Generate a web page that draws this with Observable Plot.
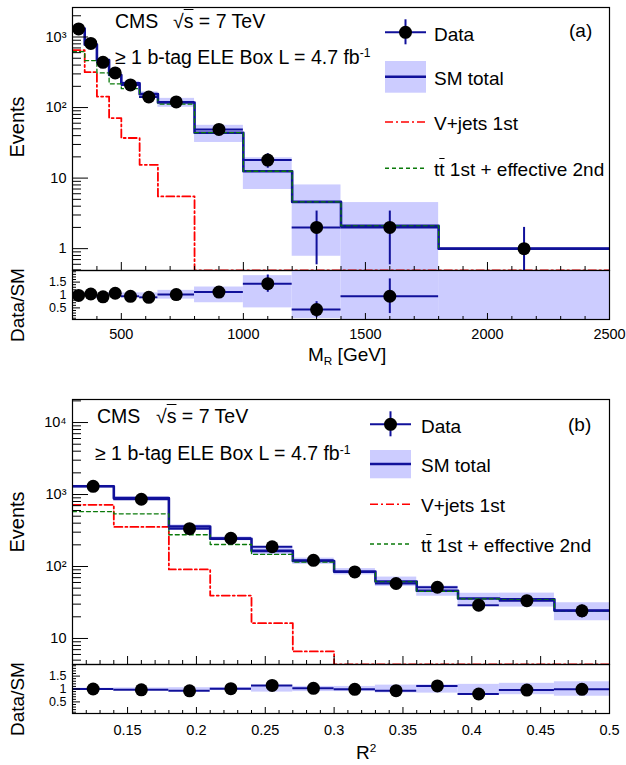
<!DOCTYPE html>
<html><head><meta charset="utf-8">
<script src="https://cdn.jsdelivr.net/npm/d3@7"></script>
<script src="https://cdn.jsdelivr.net/npm/@observablehq/plot@0.6"></script>
<style>
body{margin:0;background:#fff;font-family:"Liberation Sans",Arial,Helvetica,sans-serif;}
#wrap{position:relative;width:626px;height:765px;overflow:hidden;background:#fff;}
.p{position:absolute;left:0;}
.t{position:absolute;white-space:nowrap;line-height:1;color:#000;}
.t sup{font-size:0.62em;vertical-align:0;position:relative;top:-0.55em;}
.t sub{font-size:0.62em;vertical-align:0;position:relative;top:0.3em;}
</style></head><body><div id="wrap"></div>
<script>
// ---------------- data: panel (a), M_R ----------------
const mrEdges   = [300,350,400,450,500,575,650,800,1000,1200,1400,1800,2500];
const mrData    = [1300,810,437,310,209,141,120,49,18,2,2,1];
const mrDataErr = [36,28,21,18,14,12,11,7,4.2,1.41,1.41,1];
const mrSM      = [1320,780,470,290,220,155,118,44,12.5,4.6,2.1,1.0];
const mrSMLo    = [1280,757,451,276,205,143,101,32,6.9,0.78,0,null];
const mrSMHi    = [1360,803,489,305,235,167,135,56,19.4,8.0,4.5,null];
const mrRatioLo = [0.97,0.97,0.96,0.95,0.92,0.92,0.84,0.70,0.50,0.09,0,0];
const mrRatioHi = [1.03,1.03,1.04,1.05,1.08,1.08,1.18,1.31,1.75,2,2,2];
const mrVjets   = [650,317,143,71,37,15.4,5.5,0,0,0,0,0];
const mrTtbar   = [620,464,310,217,185,140,112,44,12.5,4.6,2.1,1.0];
const mrRatioCount = 11;
const mrXTicks  = [500,1000,1500,2000,2500];
const mrYTicks  = [1,10,100,1000];

// ---------------- data: panel (b), R^2 ----------------
const r2Edges   = [0.11,0.14,0.18,0.21,0.24,0.27,0.30,0.33,0.36,0.39,0.42,0.46,0.50];
const r2Data    = [1300,860,335,246,188,122,84,58,51.5,29,33.5,24.2];
const r2DataErr = [36,29,18,16,14,11,9.2,7.6,7.2,5.4,5.8,4.9];
const r2SM      = [1300,890,360,243,165,119,85,62,46,36,35,24.5];
const r2RelLo   = [0.97,0.96,0.95,0.94,0.88,0.9,0.9,0.85,0.84,0.82,0.78,0.72];
const r2RelHi   = [1.03,1.04,1.05,1.06,1.12,1.1,1.1,1.15,1.16,1.18,1.22,1.28];
const r2Vjets   = [720,355,91,39.5,16.3,6.6,0,0,0,0,0,0];
const r2Ttbar   = [580,540,276,202,147,115,84,61,45,35.5,34.5,24];
const r2XTicks  = [0.15,0.2,0.25,0.3,0.35,0.4,0.45,0.5];
const r2YTicks  = [10,100,1000,10000];

const ratioTicks = [0.5,1,1.5];
const supLabels = {1:"1",10:"10",100:"10\u00B2",1000:"10\u00B3",10000:"10\u2074"};

// ---------------- style ----------------
const BLUE = "#10109a", BAND = "#ccccff", RED = "#ff0000", GREEN = "#0a7a0a";
const FONT = '"Liberation Sans", Arial, Helvetica, sans-serif';
const W = 626, ML = 72, MR = 17, PW = W - ML - MR;
const RDOM = [0.05, 1.95];

function stepPoints(edges, vals, floor) {
  const pts = [];
  vals.forEach((v, i) => {
    const y = v > floor ? v : floor;
    pts.push({x: edges[i], y}, {x: edges[i + 1], y});
  });
  return pts;
}
function logMinor(dom) {
  const out = [];
  for (let e = -1; e <= 5; e++) for (let k = 2; k <= 9; k++) {
    const v = k * Math.pow(10, e);
    if (v >= dom[0] && v <= dom[1]) out.push(v);
  }
  return out;
}

function mainPanel(c) {
  const floor = c.yDomain[0];
  const bins = c.sm.map((s, i) => ({x1: c.edges[i], x2: c.edges[i+1], xm: (c.edges[i]+c.edges[i+1])/2,
    d: c.data[i], e: c.err[i], lo: c.lo[i], hi: c.hi[i]}));
  const band = bins.filter(b => b.lo != null && b.hi != null);
  return Plot.plot({
    width: W, height: c.mt + c.ph + 1, marginTop: c.mt, marginBottom: 1, marginLeft: ML, marginRight: MR,
    x: {domain: c.xDomain, axis: null},
    y: {type: "log", domain: c.yDomain, label: null},
    style: {background: "transparent", fontFamily: FONT, color: "black", overflow: "visible"},
    marks: [
      Plot.rect(band, {x1: "x1", x2: "x2", y1: b => Math.max(b.lo, floor * 0.5), y2: "hi", fill: BAND, clip: true}),
      Plot.line(stepPoints(c.edges, c.vj, floor), {x: "x", y: "y", stroke: RED, strokeWidth: 1.8, strokeDasharray: "8,3,2,3", clip: true}),
      Plot.line(stepPoints(c.edges, c.sm, floor), {x: "x", y: "y", stroke: BLUE, strokeWidth: 2.6, clip: true}),
      Plot.line(stepPoints(c.edges, c.tt, floor), {x: "x", y: "y", stroke: GREEN, strokeWidth: 1.3, strokeDasharray: "4,3", clip: true}),
      Plot.ruleY(bins, {x1: "x1", x2: "x2", y: "d", stroke: BLUE, strokeWidth: 2, clip: true}),
      Plot.ruleX(bins, {x: "xm", y1: b => Math.max(b.d - b.e, floor * 0.5), y2: b => b.d + b.e, stroke: BLUE, strokeWidth: 2, clip: true}),
      Plot.dot(bins, {x: "xm", y: "d", r: 6.5, fill: "black", stroke: "none"}),
      Plot.tickY(c.yTicks, {y: d => d, insetRight: PW - 16, stroke: "black"}),
      Plot.tickY(logMinor(c.yDomain), {y: d => d, insetRight: PW - 9, stroke: "black"}),
      Plot.tickX(c.xTicks, {x: d => d, insetTop: c.ph - 8, stroke: "black"}),
      Plot.tickX(c.xMinor, {x: d => d, insetTop: c.ph - 4, stroke: "black"}),
      Plot.axisY({ticks: c.yTicks, tickFormat: d => supLabels[d], tickSize: 0, tickPadding: 6, fontSize: 14.5, label: null}),
      Plot.frame({stroke: "black", strokeWidth: 1.2})
    ]
  });
}

function ratioPanel(c) {
  const n = c.count ?? c.sm.length;
  const pts = [];
  for (let i = 0; i < n; i++) pts.push({x1: c.edges[i], x2: c.edges[i+1], xm: (c.edges[i]+c.edges[i+1])/2,
    r: c.data[i] / c.sm[i], re: c.err[i] / c.sm[i]});
  const band = c.sm.map((s, i) => ({x1: c.edges[i], x2: c.edges[i+1], lo: c.rlo[i], hi: c.rhi[i]}));
  const rMinor = d3.range(1, 20).map(i => i / 10).filter(v => v > RDOM[0] && v < RDOM[1] && !ratioTicks.includes(v));
  return Plot.plot({
    width: W, height: c.ph + 1 + c.mb, marginTop: 1, marginBottom: c.mb, marginLeft: ML, marginRight: MR,
    x: {domain: c.xDomain, label: null},
    y: {domain: RDOM, label: null},
    style: {background: "transparent", fontFamily: FONT, color: "black", overflow: "visible"},
    marks: [
      Plot.rect(band, {x1: "x1", x2: "x2", y1: b => Math.max(b.lo, RDOM[0] - 0.2), y2: b => Math.min(b.hi, RDOM[1] + 0.2), fill: BAND, clip: true}),
      Plot.ruleY(pts, {x1: "x1", x2: "x2", y: "r", stroke: BLUE, strokeWidth: 2, clip: true}),
      Plot.ruleX(pts, {x: "xm", y1: p => p.r - p.re, y2: p => p.r + p.re, stroke: BLUE, strokeWidth: 2, clip: true}),
      Plot.dot(pts, {x: "xm", y: "r", r: 6.5, fill: "black", stroke: "none"}),
      Plot.tickY(ratioTicks, {y: d => d, insetRight: PW - 8, stroke: "black"}),
      Plot.tickY(rMinor, {y: d => d, insetRight: PW - 4, stroke: "black"}),
      Plot.tickX(c.xTicks, {x: d => d, insetTop: c.ph - 6, stroke: "black"}),
      Plot.tickX(c.xMinor, {x: d => d, insetTop: c.ph - 3, stroke: "black"}),
      Plot.axisY({ticks: ratioTicks, tickFormat: d => String(d), tickSize: 0, tickPadding: 6, fontSize: 12.5, label: null}),
      Plot.axisX({ticks: c.xTicks, tickFormat: d => String(d), tickSize: 0, tickPadding: c.pad, fontSize: 14.5, label: null}),
      Plot.frame({stroke: "black", strokeWidth: 1.2})
    ]
  });
}

const mrMinorX = d3.range(300, 2501, 100).filter(v => v % 500 !== 0);
const r2MinorX = d3.range(11, 51).map(i => i / 100).filter(v => Math.round(v * 100) % 5 !== 0);

const wrap = document.getElementById("wrap");
function place(node, top) { node.classList.add("p"); node.style.top = top + "px"; wrap.appendChild(node); }

place(mainPanel({edges: mrEdges, data: mrData, err: mrDataErr, sm: mrSM, lo: mrSMLo, hi: mrSMHi, vj: mrVjets, tt: mrTtbar,
  xDomain: [300, 2500], yDomain: [0.49, 2620], yTicks: mrYTicks, xTicks: mrXTicks, xMinor: mrMinorX, mt: 7, ph: 263}), 0);
place(ratioPanel({edges: mrEdges, data: mrData, err: mrDataErr, sm: mrSM, rlo: mrRatioLo, rhi: mrRatioHi, count: mrRatioCount,
  xDomain: [300, 2500], xTicks: mrXTicks, xMinor: mrMinorX, ph: 49, mb: 50, pad: 9}), 269);
place(mainPanel({edges: r2Edges, data: r2Data, err: r2DataErr, sm: r2SM,
  lo: r2SM.map((s, i) => s * r2RelLo[i]), hi: r2SM.map((s, i) => s * r2RelHi[i]), vj: r2Vjets, tt: r2Ttbar,
  xDomain: [0.11, 0.5], yDomain: [4.35, 20900], yTicks: r2YTicks, xTicks: r2XTicks, xMinor: r2MinorX, mt: 7, ph: 265}), 392);
place(ratioPanel({edges: r2Edges, data: r2Data, err: r2DataErr, sm: r2SM, rlo: r2RelLo, rhi: r2RelHi,
  xDomain: [0.11, 0.5], xTicks: r2XTicks, xMinor: r2MinorX, ph: 49, mb: 50, pad: 11}), 663);

// ---------------- text overlay ----------------
function txt(left, base, html, fs) {
  return `<div class="t" style="left:${left}px;top:${(base - 0.8465 * fs).toFixed(1)}px;font-size:${fs}px">${html}</div>`;
}
function vtxt(cx, cy, html, fs) {
  return `<div class="t" style="left:${cx}px;top:${cy}px;font-size:${fs}px;transform:translate(-50%,-50%) rotate(-90deg)">${html}</div>`;
}
const sqrtS = `\u221A<span style="text-decoration:overline">s</span> = 7 TeV`;
const boxTxt = `\u2265 1 b-tag ELE Box L = 4.7 fb<sup>-1</sup>`;
const ttTxt = `t<span style="text-decoration:overline">t</span> 1st + effective 2nd`;
const A = 19.5, L = 19;
let html = "";
html += txt(115, 28.5, "CMS", A) + txt(173, 28.5, sqrtS, A) + txt(115, 64, boxTxt, A);
html += txt(434, 40.7, "Data", L) + txt(434, 85, "SM total", L) + txt(434, 130.5, "V+jets 1st", L) + txt(434, 176, ttTxt, L);
html += txt(569, 37, "(a)", L);
html += txt(97, 423.5, "CMS", A) + txt(156, 423.5, sqrtS, A) + txt(95, 460.7, boxTxt, A);
html += txt(421, 432.7, "Data", L) + txt(421, 471.7, "SM total", L) + txt(421, 512.3, "V+jets 1st", L) + txt(421, 551.7, ttTxt, L);
html += txt(568, 431, "(b)", L);
html += vtxt(17, 127, "Events", 20) + vtxt(17, 305, "Data/SM", 19);
html += vtxt(17, 522, "Events", 20) + vtxt(17, 699, "Data/SM", 19);
html += txt(308, 361.5, "M<sub>R</sub> [GeV]", 19);
html += txt(356, 759, "R<sup>2</sup>", 19);

// legend swatches
function leg(x0, x1, yData, yBox0, yBox1, ySM, yV, yT) {
  const xc = (x0 + x1) / 2;
  return `<line x1="${x0}" x2="${x1}" y1="${yData}" y2="${yData}" stroke="${BLUE}" stroke-width="2"/>
  <line x1="${xc}" x2="${xc}" y1="${yData - 13}" y2="${yData + 12}" stroke="${BLUE}" stroke-width="2"/>
  <circle cx="${xc}" cy="${yData}" r="6.5" fill="black"/>
  <rect x="${x0}" y="${yBox0}" width="${x1 - x0}" height="${yBox1 - yBox0}" fill="${BAND}"/>
  <line x1="${x0}" x2="${x1}" y1="${ySM}" y2="${ySM}" stroke="${BLUE}" stroke-width="2.4"/>
  <line x1="${x0}" x2="${x1}" y1="${yV}" y2="${yV}" stroke="${RED}" stroke-width="1.6" stroke-dasharray="8,3,2,3"/>
  <line x1="${x0}" x2="${x1}" y1="${yT}" y2="${yT}" stroke="${GREEN}" stroke-width="1.6" stroke-dasharray="4,3"/>`;
}
html += `<svg width="626" height="765" style="position:absolute;left:0;top:0;pointer-events:none">
${leg(385, 426, 32.3, 61, 92.7, 76.7, 122, 168.3)}
${leg(370, 411, 424.3, 450, 478.3, 464, 504.3, 544)}
</svg>`;
wrap.insertAdjacentHTML("beforeend", html);
</script></body></html>
